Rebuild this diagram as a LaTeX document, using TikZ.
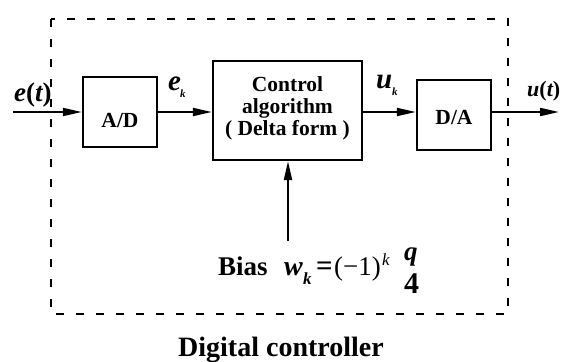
\documentclass[tikz,border=0pt]{standalone}
\usepackage{fontspec}
\setmainfont{Liberation Serif}
\usetikzlibrary{arrows.meta}
\newcommand{\fsz}[1]{\fontsize{#1}{#1}\selectfont}
\begin{document}
\begin{tikzpicture}[x=1pt,y=-1pt,
  blk/.style={draw, line width=2.3pt, inner sep=0pt},
  sig/.style={line width=2pt, -{Triangle[length=19pt,width=8pt]}},
  lbl/.style={font=\bfseries\fontsize{21.5}{22}\selectfont, align=center, inner sep=0pt},
  txt/.style={anchor=base west, inner sep=0pt},
]
\useasboundingbox (0,0) rectangle (561,361);

% controller boundary
\draw[line width=2.2pt, dash pattern=on 8pt off 12pt] (51,19) rectangle (508,314);

% blocks
\node[blk, minimum width=74pt, minimum height=70pt] (ad) at (120,112) {};
\node[lbl] (adt) at (120,121) {A/D};
\node[blk, minimum width=149pt, minimum height=99pt] (ctrl) at (287.5,110.5) {};
\node[lbl] (ctrlt) at (287.5,108.5) {Control\\algorithm\\( Delta form )};
\node[blk, minimum width=74pt, minimum height=70pt] (da) at (454,115) {};
\node[lbl] (dat) at (454,118) {D/A};

% signal path
\coordinate (in) at (13,112);
\coordinate (out) at (559,112);
\coordinate (bias) at (288,241);
\draw[sig] (in) -- (ad.west |- in);
\draw[sig] (ad.east |- in) -- (ctrl.west |- in);
\draw[sig] (ctrl.east |- in) -- (da.west |- in);
\draw[sig] (da.east |- in) -- (out);
\draw[sig] (bias) -- (bias |- ctrl.south);

% signal labels
\node[txt] (et) at (14,101) {\fsz{27}\bfseries\itshape e\upshape(\itshape t\upshape)};
\node[txt] (ek) at (168,90) {\fsz{29}\bfseries\itshape e};
\node[txt] (eksub) at (180,97) {\fsz{11}\bfseries\itshape k};
\node[txt] (uk) at (376,88) {\fsz{29}\bfseries\itshape u};
\node[txt] (uksub) at (392,95) {\fsz{11}\bfseries\itshape k};
\node[txt] (ut) at (527,96) {\fsz{22}\bfseries\itshape u\upshape(\itshape t\upshape)};

% bias input
\node[txt] (biast) at (218,275) {\fsz{27}\bfseries Bias};
\node[txt] (w) at (284,275) {\fsz{28}\bfseries\itshape w};
\node[txt] (wsub) at (303,284) {\fsz{17}\bfseries\itshape k};
\node[txt] (eq) at (316,275) {\fsz{29}\bfseries =};
\node[txt] (pw) at (eq.base east) {\fsz{27}\kern1pt(−1)};
\node[txt] (pwk) at ([yshift=10pt]pw.base east) {\fsz{17}\itshape\kern1pt k};
\node[txt] (q) at (404,260) {\fsz{27}\bfseries\itshape q};
\node[txt] (four) at (404,293) {\fsz{30}\bfseries 4};

\node[txt] (dc) at (178,356) {\fsz{28}\bfseries Digital controller};
\end{tikzpicture}
\end{document}
